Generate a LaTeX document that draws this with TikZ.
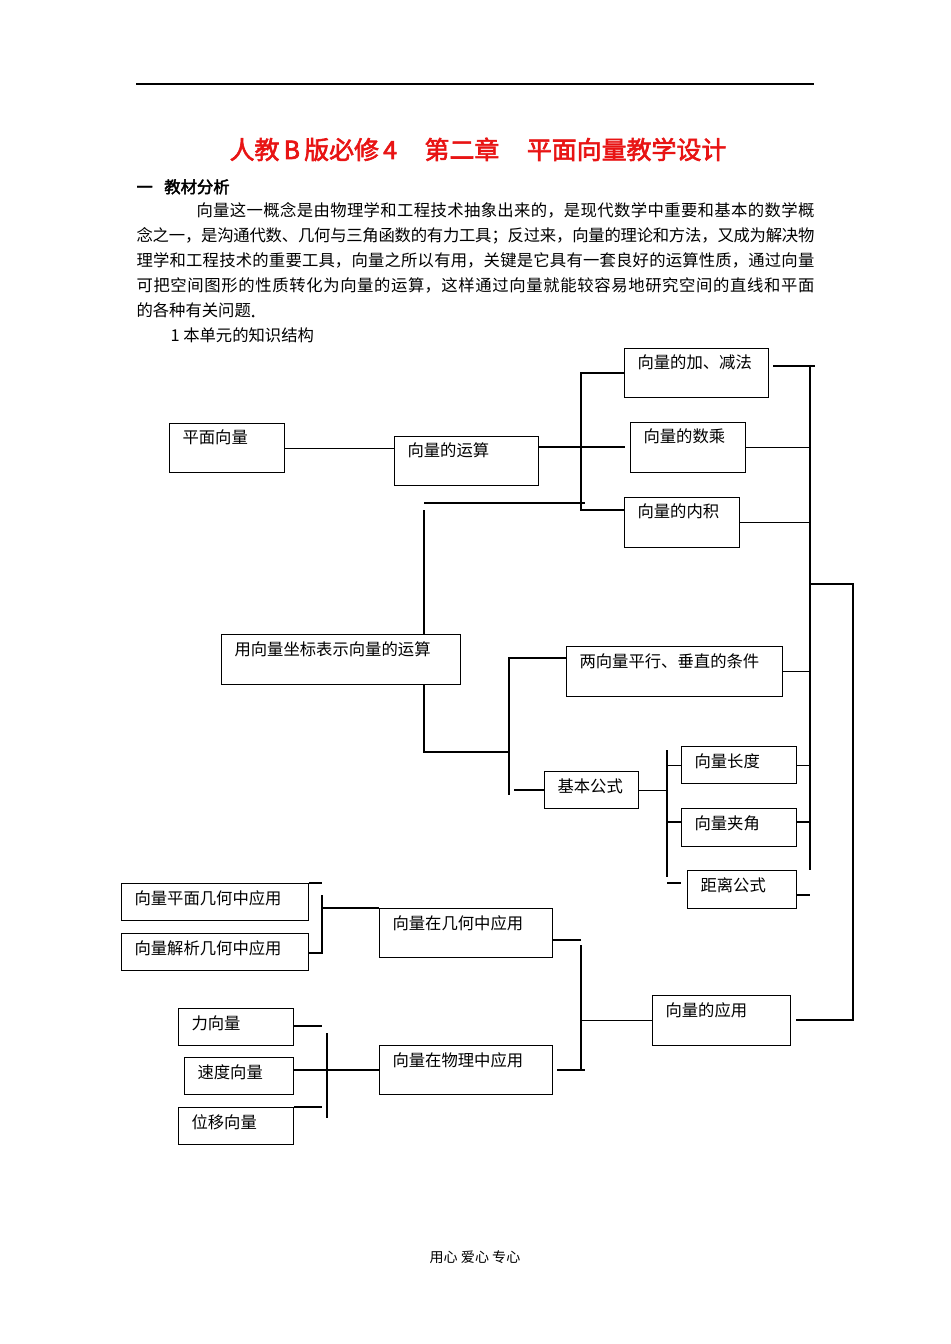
\documentclass[tikz,border=0pt]{standalone}
\usepackage{fontspec}
\setmainfont{Noto Sans CJK SC}[AutoFakeBold=2.5]
\usepackage{tikz}
\XeTeXlinebreaklocale "zh"
\XeTeXlinebreakskip=0pt plus 2pt minus 0.5pt

\definecolor{titlered}{RGB}{232,20,20}

\begin{document}
\begin{tikzpicture}[
                    x=0.02cm, y=-0.02cm,
                    line width=0.6pt,
                    every node/.style={
                        inner sep=0pt,
                        font=\fontsize{9.3}{11}\selectfont
                    },
                    lbl/.style={anchor=base west, xshift=0.26cm, yshift=-0.42cm},
                    box/.style 2 args={
                        draw,
                        line width=0.8pt,
                        anchor=north west,
                        minimum width=#1*0.02cm,
                        minimum height=#2*0.02cm
                    },
                    line/.style={anchor=base west},
                    fullline/.style={anchor=base west, text width=#1, align=justify}
                ]
                    \useasboundingbox (0,0) rectangle (950,1344);
                    \draw (136,84) -- (814,84);

                    % Text
                    \node[anchor=base, text=titlered, font=\fontsize{14.2}{17}\selectfont\bfseries] (title) at (478,159)
                        {人教\,B\,版必修\,4\hspace{1.1em}第二章\hspace{1.1em}平面向量教学设计};
                    \node[line, font=\fontsize{9.3}{11}\selectfont\bfseries] (head) at (136,193) {一\hspace{0.7em}教材分析};
                    \node[fullline=12.36cm] (p1) at (196,217) {\noindent\parfillskip=0pt 向量这一概念是由物理学和工程技术抽象出来的，是现代数学中重要和基本的数学概\par};
                    \node[fullline=13.56cm] (p2) at (136,242) {\noindent\parfillskip=0pt 念之一，是沟通代数、几何与三角函数的有力工具；反过来，向量的理论和方法，又成为解决物\par};
                    \node[fullline=13.56cm] (p3) at (136,267) {\noindent\parfillskip=0pt 理学和工程技术的重要工具，向量之所以有用，关键是它具有一套良好的运算性质，通过向量\par};
                    \node[fullline=13.56cm] (p4) at (136,292) {\noindent\parfillskip=0pt 可把空间图形的性质转化为向量的运算，这样通过向量就能较容易地研究空间的直线和平面\par};
                    \node[line] (p5) at (136,317) {的各种有关问题\textbf{.}};
                    \node[line] (sub) at (170,342) {1 本单元的知识结构};
                    \node[anchor=base, font=\fontsize{8}{9}\selectfont] (foot) at (475,1262) {用心\ 爱心\ 专心};

                    % Boxes
                    \node[box={115}{49}, label={[lbl]north west:平面向量}] (pmxl) at (169,423) {};
                    \node[box={144}{49}, label={[lbl]north west:向量的运算}] (ysuan) at (394,436) {};
                    \node[box={144}{49}, label={[lbl]north west:向量的加、减法}] (jjf) at (624,348) {};
                    \node[box={115}{50}, label={[lbl]north west:向量的数乘}] (shch) at (630,422) {};
                    \node[box={115}{50}, label={[lbl]north west:向量的内积}] (nj) at (624,497) {};
                    \node[box={239}{50}, label={[lbl]north west:用向量坐标表示向量的运算}] (zbys) at (221,634) {};
                    \node[box={216}{50}, label={[lbl]north west:两向量平行、垂直的条件}] (pxcz) at (566,646) {};
                    \node[box={94}{37}, label={[lbl]north west:基本公式}] (jbgs) at (544,771) {};
                    \node[box={115}{37}, label={[lbl]north west:向量长度}] (chd) at (681,746) {};
                    \node[box={115}{38}, label={[lbl]north west:向量夹角}] (jj) at (681,808) {};
                    \node[box={109}{38}, label={[lbl]north west:距离公式}] (jl) at (687,870) {};
                    \node[box={187}{37}, label={[lbl]north west:向量平面几何中应用}] (pmjh) at (121,883) {};
                    \node[box={187}{37}, label={[lbl]north west:向量解析几何中应用}] (jxjh) at (121,933) {};
                    \node[box={173}{49}, label={[lbl]north west:向量在几何中应用}] (jhyy) at (379,908) {};
                    \node[box={138}{50}, label={[lbl]north west:向量的应用}] (yy) at (652,995) {};
                    \node[box={115}{37}, label={[lbl]north west:力向量}] (lxl) at (178,1008) {};
                    \node[box={109}{37}, label={[lbl]north west:速度向量}] (sdxl) at (184,1057) {};
                    \node[box={115}{37}, label={[lbl]north west:位移向量}] (wyxl) at (178,1107) {};
                    \node[box={173}{49}, label={[lbl]north west:向量在物理中应用}] (wlyy) at (379,1045) {};

                    % Junctions
                    \coordinate (ra) at (581,373);
                    \coordinate (rb) at (581,510);
                    \coordinate (rc) at (625,447);
                    \coordinate (za) at (424,503);
                    \coordinate (zb) at (585,503);
                    \coordinate (zc) at (424,510);
                    \coordinate (zd) at (424,752);
                    \coordinate (ze) at (509,752);
                    \coordinate (zf) at (509,658);
                    \coordinate (zg) at (509,795);
                    \coordinate (zh) at (514,790);
                    \coordinate (ga) at (667,750);
                    \coordinate (gb) at (667,877);
                    \coordinate (gc) at (667,822);
                    \coordinate (gd) at (667,883);
                    \coordinate (ge) at (681,883);
                    \coordinate (ba) at (810,365);
                    \coordinate (bb) at (810,870);
                    \coordinate (bc) at (773,366);
                    \coordinate (bd) at (815,366);
                    \coordinate (be) at (810,822);
                    \coordinate (bf) at (810,895);
                    \coordinate (oa) at (810,584);
                    \coordinate (ob) at (853,584);
                    \coordinate (oc) at (853,1020);
                    \coordinate (od) at (796,1020);
                    \coordinate (aa) at (581,945);
                    \coordinate (ab) at (581,1070);
                    \coordinate (ac) at (581,940);
                    \coordinate (ad) at (557,1070);
                    \coordinate (ae) at (585,1070);
                    \coordinate (ja) at (322,895);
                    \coordinate (jb) at (322,953);
                    \coordinate (jc) at (322,883);
                    \coordinate (jd) at (322,908);
                    \coordinate (wa) at (327,1033);
                    \coordinate (wb) at (327,1118);
                    \coordinate (wc) at (322,1026);
                    \coordinate (wd) at (322,1107);

                    % Edges
                    \draw (pmxl.east) -- (pmxl.east -| ysuan.west);
                    \draw (ysuan.east |- rc) -- (rc);
                    \draw (jjf.west |- ra) -- (ra) -- (rb) -- (nj.west |- rb);
                    \draw (za) -- (zb);
                    \draw (zc) -- (zc |- zbys.north);
                    \draw (zd |- zbys.south) -- (zd) -- (ze);
                    \draw (pxcz.west |- zf) -- (zf) -- (zg);
                    \draw (zh) -- (zh -| jbgs.west);
                    \draw (ga) -- (gb);
                    \draw (jbgs.east) -- (jbgs.east -| ga);
                    \draw (ga |- chd.west) -- (chd.west);
                    \draw (gc) -- (gc -| jj.west);
                    \draw (gd) -- (ge);
                    \draw (ba) -- (bb);
                    \draw (bc) -- (bd);
                    \draw (shch.east) -- (shch.east -| ba);
                    \draw (nj.east) -- (nj.east -| ba);
                    \draw (pxcz.east) -- (pxcz.east -| ba);
                    \draw (chd.east) -- (chd.east -| ba);
                    \draw (jj.east |- be) -- (be);
                    \draw (jl.east |- bf) -- (bf);
                    \draw (oa) -- (ob) -- (oc) -- (od);
                    \draw (aa) -- (ab);
                    \draw (yy.west) -- (yy.west -| aa);
                    \draw (jhyy.east |- ac) -- (ac);
                    \draw (ad) -- (ae);
                    \draw (ja) -- (jb) -- (jxjh.east |- jb);
                    \draw (pmjh.north east) -- (jc);
                    \draw (jd) -- (jhyy.north west);
                    \draw (wa) -- (wb);
                    \draw (lxl.east |- wc) -- (wc);
                    \draw (sdxl.east |- ab) -- (wlyy.west |- ab);
                    \draw (wyxl.north east) -- (wd);
                \end{tikzpicture}
\end{document}
